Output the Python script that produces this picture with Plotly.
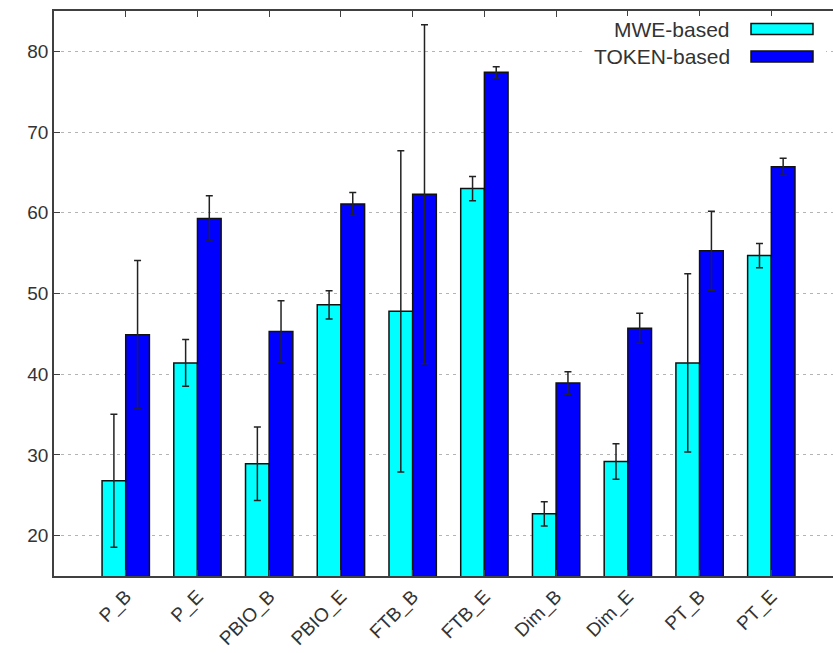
import plotly.graph_objects as go

# Categories and series values
categories = ["P_B", "P_E", "PBIO_B", "PBIO_E", "FTB_B", "FTB_E", "Dim_B", "Dim_E", "PT_B", "PT_E"]
series_names = ["MWE-based", "TOKEN-based"]
mwe_values = [26.8, 41.4, 28.9, 48.6, 47.8, 63.0, 22.7, 29.2, 41.4, 54.7]
mwe_errors = [8.25, 2.9, 4.55, 1.75, 19.9, 1.5, 1.5, 2.2, 11.05, 1.5]
token_values = [44.9, 59.3, 45.3, 61.1, 62.3, 77.4, 38.9, 45.7, 55.3, 65.7]
token_errors = [9.2, 2.8, 3.8, 1.4, 21.0, 0.7, 1.4, 1.85, 4.9, 1.05]
y_ticks = [20, 30, 40, 50, 60, 70, 80]

colors = ["#00FFFF", "#0000FF"]
font_family = "Liberation Sans, Arial, sans-serif"
text_color = "#333333"
axis_color = "#404040"

x_idx = list(range(len(categories)))

fig = go.Figure()
for name, vals, errs, col in zip(series_names, [mwe_values, token_values],
                                 [mwe_errors, token_errors], colors):
    fig.add_trace(go.Bar(
        x=x_idx, y=vals, name=name,
        marker=dict(color=col, line=dict(color="#111111", width=1.5)),
        error_y=dict(type="data", array=errs, visible=True,
                     color="#222222", thickness=1.5, width=3.5),
    ))

fig.update_layout(
    width=833, height=653,
    margin=dict(l=54, r=0, t=11, b=77),
    barmode="group", bargap=0.34, bargroupgap=0.0,
    plot_bgcolor="white", paper_bgcolor="white",
    showlegend=False,
    font=dict(family=font_family, size=19, color=text_color),
    xaxis=dict(
        range=[-1.0, 9.86], automargin=False,
        tickmode="array", tickvals=x_idx, ticktext=categories,
        tickangle=-45, ticks="inside", ticklen=6, tickcolor=axis_color,
        showline=True, linecolor=axis_color, linewidth=1.5, mirror="ticks",
        showgrid=False, zeroline=False, ticklabelstandoff=0,
        tickfont=dict(size=19, color=text_color),
    ),
    yaxis=dict(
        range=[15, 85], automargin=False,
        tickmode="array", tickvals=y_ticks,
        ticks="inside", ticklen=6, tickcolor=axis_color,
        showline=True, linecolor=axis_color, linewidth=1.5, mirror=False,
        showgrid=True, gridcolor="#b4b4b4", gridwidth=1, griddash="3px,4px",
        zeroline=False,
        tickfont=dict(size=19, color=text_color),
    ),
)

# Key box in the upper right: labels right-aligned, swatches to their right
fig.add_shape(type="rect", xref="paper", yref="paper",
              x0=(583 - 54) / 779, x1=(826 - 54) / 779,
              y0=1 - (68 - 11) / 565, y1=1 - (16 - 11) / 565,
              fillcolor="white", line=dict(width=0), layer="above")
row_centers = [29, 56.5]
for name, col, yc in zip(series_names, colors, row_centers):
    yp = 1 - (yc - 11) / 565
    fig.add_shape(type="rect", xref="paper", yref="paper",
                  x0=(751 - 54) / 779, x1=(813 - 54) / 779,
                  y0=yp - 5.5 / 565, y1=yp + 5.5 / 565,
                  fillcolor=col, line=dict(color="#111111", width=1.5),
                  layer="above")
    fig.add_annotation(xref="paper", yref="paper", x=(732 - 54) / 779, y=yp,
                       text=name, showarrow=False, xanchor="right",
                       yanchor="middle",
                       font=dict(family=font_family, size=21, color=text_color))

fig.write_html("out.html")
